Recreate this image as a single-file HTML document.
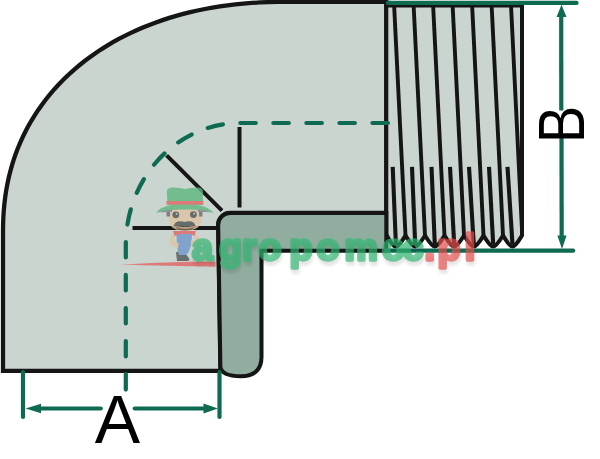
<!DOCTYPE html>
<html><head><meta charset="utf-8">
<style>
html,body{margin:0;padding:0;background:#fff;width:600px;height:459px;overflow:hidden}
svg{display:block}
</style></head>
<body>
<svg width="600" height="459" viewBox="0 0 600 459">
<defs><filter id="blur" x="-10%" y="-30%" width="120%" height="160%"><feGaussianBlur stdDeviation="1.6"/></filter></defs>
<rect width="600" height="459" fill="#fff"/>
<path d="M3,370.8 V232.8 L3.00,232.82 L3.09,224.54 L3.36,217.22 L3.80,210.24 L4.43,203.47 L5.23,196.87 L6.20,190.40 L7.36,184.05 L8.69,177.81 L10.20,171.67 L11.88,165.63 L13.73,159.67 L15.76,153.81 L17.96,148.04 L20.33,142.36 L22.87,136.77 L25.57,131.27 L28.45,125.86 L31.49,120.54 L34.69,115.31 L38.06,110.19 L41.58,105.15 L45.27,100.22 L49.11,95.39 L53.11,90.65 L57.27,86.03 L61.57,81.50 L66.03,77.09 L70.63,72.78 L75.37,68.59 L80.26,64.50 L85.29,60.53 L90.46,56.68 L95.77,52.95 L101.21,49.33 L106.79,45.84 L112.49,42.47 L118.32,39.22 L124.28,36.10 L130.36,33.11 L136.56,30.25 L142.88,27.52 L149.31,24.92 L155.87,22.45 L162.53,20.12 L169.31,17.92 L176.20,15.86 L183.20,13.94 L190.31,12.15 L197.54,10.51 L204.87,9.00 L212.32,7.64 L219.89,6.42 L227.58,5.34 L235.40,4.40 L243.37,3.61 L251.51,2.96 L259.85,2.45 L268.45,2.09 L277.46,1.87 L287.67,1.80 H386.3 V213 H230.2 A12 12 0 0 0 218.2,225.5 L220.5,370.8 Z" fill="#cbd5d0" stroke="#151515" stroke-width="4.3" stroke-linejoin="miter"/>
<path d="M386.3,5 V234.5 C388.8,239.5 392.9,246.6 395.9,246.6 C398.9,246.6 403.0,239.5 405.5,235.5 C408.0,239.5 412.2,246.6 415.2,246.6 C418.2,246.6 422.5,239.5 425.0,235.5 C427.5,239.5 431.8,246.6 434.8,246.6 C437.8,246.6 442.0,239.5 444.5,235.5 C447.0,239.5 451.2,246.6 454.2,246.6 C457.2,246.6 461.5,239.5 464.0,235.5 C466.5,239.5 470.8,246.6 473.8,246.6 C476.8,246.6 481.0,239.5 483.5,235.5 C486.0,239.5 490.2,246.6 493.2,246.6 C496.2,246.6 500.5,239.5 503.0,235.5 C505.5,239.5 509.5,246.6 512.5,246.6 C515.5,246.6 519.5,239.5 522.0,235.5 L522,5 Z" fill="#cbd5d0" stroke="#151515" stroke-width="4"/>
<path d="M386.3,213 H230.2 A12 12 0 0 0 218.2,225.5 L220.4,367 C221.5,374 229,376.2 241,376.2 C255,376.2 261.5,369 261.5,357 V250.7 H386.3 Z" fill="#91ada0" stroke="#151515" stroke-width="4"/>
<g fill="none" stroke="#151515" stroke-width="3.9">
<path d="M394.1,5 L405.5,235.5"/>
<path d="M413.6,5 L425.0,235.5"/>
<path d="M433.1,5 L444.5,235.5"/>
<path d="M452.6,5 L464.0,235.5"/>
<path d="M472.1,5 L483.5,235.5"/>
<path d="M491.6,5 L503.0,235.5"/>
<path d="M511.0,5 L520.5,200 L522,230"/>
<path d="M392.7,166.8 L395.9,244.6" stroke-linecap="butt" stroke-width="4.1"/>
<path d="M412.0,166.8 L415.2,244.6" stroke-linecap="butt" stroke-width="4.1"/>
<path d="M431.5,166.8 L434.8,244.6" stroke-linecap="butt" stroke-width="4.1"/>
<path d="M450.0,166.8 L454.2,244.6" stroke-linecap="butt" stroke-width="4.1"/>
<path d="M469.0,166.8 L473.8,244.6" stroke-linecap="butt" stroke-width="4.1"/>
<path d="M489.0,166.8 L493.2,244.6" stroke-linecap="butt" stroke-width="4.1"/>
<path d="M507.5,166.8 L512.5,244.6" stroke-linecap="butt" stroke-width="4.1"/>
<line x1="386" y1="6" x2="522" y2="6" stroke-width="3"/>
</g>
<path d="M125.8,395 V245 A114.2 122 0 0 1 240,123 H390" fill="none" stroke="#0f6a52" stroke-width="4.2" stroke-dasharray="15.5 17.53" stroke-dashoffset="-5.45" stroke-linecap="round"/>
<g stroke="#151515" stroke-width="4">
<line x1="239.5" y1="127" x2="239.5" y2="207.5"/>
<line x1="166.6" y1="155.3" x2="222" y2="210.6"/>
<line x1="132.5" y1="228" x2="218" y2="228"/>
</g>
<g stroke="#0f6a52" stroke-width="4.2" fill="none">
<path d="M388,2.9 H576.5" stroke-linecap="round"/><rect x="387" y="0.8" width="4" height="4.2" fill="#0f6a52" stroke="none"/>
<line x1="386" y1="250.7" x2="573.2" y2="250.7" stroke-linecap="round"/>
<line x1="561.2" y1="12" x2="561.3" y2="110.5"/>
<line x1="561.5" y1="137" x2="561.7" y2="240"/>
</g>
<g fill="#0f6a52">
<path d="M561.5,4.8 L566.5,17 L556.5,17 Z"/>
<path d="M562,249 L566.6,235.5 L557.4,235.5 Z"/>
</g>
<text transform="translate(583.5,143) rotate(-90) scale(0.86,1)" font-family="Liberation Sans" font-size="65">B</text>
<g stroke="#0f6a52" stroke-width="4.2" fill="none" stroke-linecap="round">
<line x1="23" y1="372" x2="23" y2="417"/>
<line x1="219.5" y1="372" x2="219.5" y2="417"/>
<line x1="35" y1="408.5" x2="100.8" y2="408.5"/>
<line x1="134.7" y1="408.5" x2="208" y2="408.5"/>
</g>
<g fill="#0f6a52">
<path d="M25.5,408.5 L41,403.8 L41,413.2 Z"/>
<path d="M218,408.5 L203.5,403.6 L203.5,413.4 Z"/>
</g>
<text x="94.8" y="442.7" font-family="Liberation Sans" font-size="68">A</text>

<g opacity="0.8">
<path d="M120,264.6 C150,262.6 185,261.6 215.5,261.4 L215.5,266.8 C185,266.2 150,265.5 120,264.6 Z" fill="#e26464"/>
<!-- boots -->
<path d="M176,252 L184,251.5 L189.5,259 L188.5,261 L177,261 Z" fill="#4f5757"/>
<!-- overalls -->
<path d="M176.5,233 L192,233 C192,243 190,252 186,255 L179,255 C177,250 176.5,242 176.5,233 Z" fill="#6f96cc"/>
<!-- arms -->
<path d="M174.5,233 C169,236 168,242 172,246 L178,248.5 L178.5,243 L174.5,241 C173.5,238 176,236 176.5,234 Z" fill="#e0c3a3"/>
<path d="M192.5,233 C199,235 202,240 199,244.5 L191,246.5 L191,241 L195,239 C195,237 193,236 192,234 Z" fill="#e0c3a3"/>
<!-- collar -->
<path d="M173,231 L196,231 L194.5,236 L190,234 L180,234 L174.5,236 Z" fill="#e26464"/>
<!-- face -->
<path d="M168.5,208 H201.5 V219 C201.5,226.5 196,230.8 185,230.8 C174,230.8 168.5,226.5 168.5,219 Z" fill="#e0c3a3"/>
<path d="M176,227 C180,229.5 190,229.5 194,227 L192,229.5 C188,231 182,231 178,229.5 Z" fill="#8a6a55"/>
<rect x="166.5" y="209.5" width="3.5" height="7" fill="#6a6e6e"/>
<rect x="199" y="209.5" width="3.5" height="7" fill="#6a6e6e"/>
<circle cx="175.8" cy="214.8" r="3.4" fill="#4c5252"/>
<circle cx="193.4" cy="214.6" r="3.4" fill="#4c5252"/>
<circle cx="176.6" cy="213.8" r="0.9" fill="#cfd4d4"/>
<circle cx="194.2" cy="213.6" r="0.9" fill="#cfd4d4"/>
<path d="M173.5,226.2 C175,221 180,220.5 184.5,222 C189,220.5 194,221 195.8,226.2 C192,225.5 188,227.5 184.5,226.8 C181,227.5 177,225.5 173.5,226.2 Z" fill="#4c5252"/>
<!-- brim -->
<path d="M156,212.8 C161,206 173,204 184.5,204 C196,204 208,206 213.8,212.8 C207,211 198,209.5 184.5,209.5 C171,209.5 162,211 156,212.8 Z" fill="#5eb67e"/>
<path d="M158,212.5 C163,210.5 168,209.8 172,209.6 L172,212 C166,212 161,212.3 158,212.5 Z" fill="#7d8585"/>
<path d="M211.8,212.5 C206.8,210.5 201.8,209.8 197.8,209.6 L197.8,212 C203.8,212 208.8,212.3 211.8,212.5 Z" fill="#7d8585"/>
<!-- crown -->
<path d="M167.5,205 L166.8,192 C166.8,189 169,187.5 172,187.5 C177,187.2 181,188.5 185,189 C189,188.5 194,187.2 198,187.5 C201,187.5 203,189 203,192 L202.8,205 Z" fill="#5eb67e"/>
<rect x="166.5" y="201" width="37" height="3.6" fill="#e26464"/>
</g>


<g font-family="Liberation Sans" font-weight="bold" font-size="37.5" stroke-width="3.3" stroke-linejoin="round">
<text x="193 220 243 259.5 290.5 317.5 345.5 383 403.5 425.4 438.5 465.7" y="264" fill="#000" stroke="#000" opacity="0.10" filter="url(#blur)">agropomoc.pl</text>
<g opacity="0.68">
<text x="192 219 242 258.5 289.5 316.5 344.5 382 402.5" y="260" fill="#30b872" stroke="#30b872">agropomoc</text>
<text x="424.4 437.5 464.7" y="260" fill="#ea4f4f" stroke="#ea4f4f">.pl</text>
</g>
</g>

</svg>
</body></html>
